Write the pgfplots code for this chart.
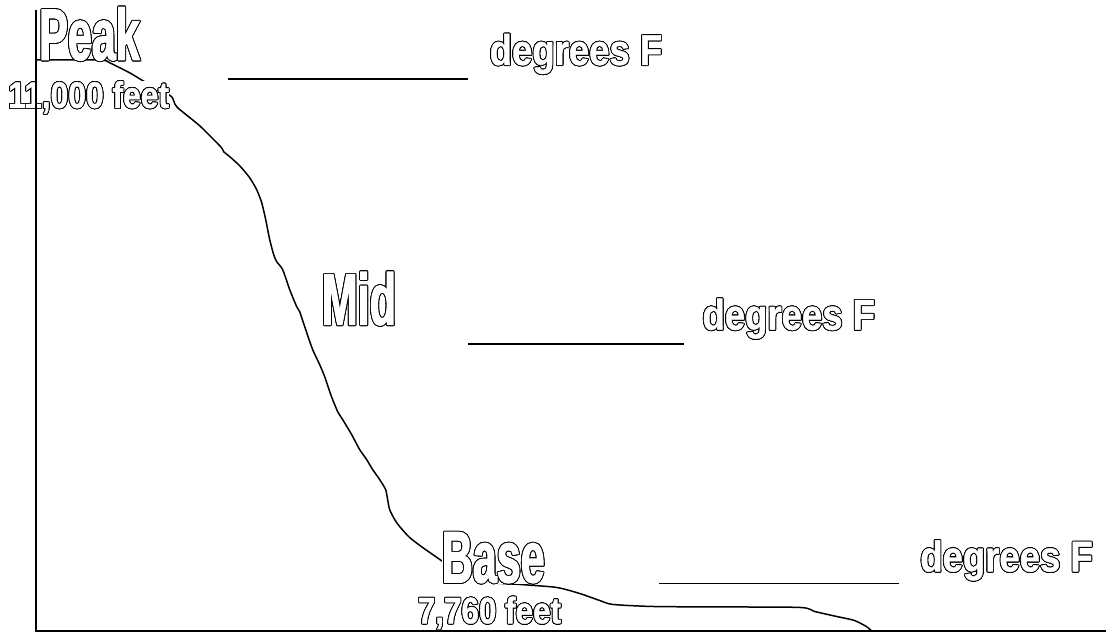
\documentclass[border=0pt]{standalone}
\usepackage{pgfplots}
\pgfplotsset{compat=1.18}
\usepackage{fontspec}
\usepackage{contour}
\setmainfont{Liberation Sans}
\newfontfamily\fA{Liberation Sans Bold}[FakeStretch=0.59, FakeBold=1.5]
\newfontfamily\fB{Liberation Sans Bold}[FakeStretch=0.86, FakeBold=1]
\newfontfamily\fC{Liberation Sans Bold}[FakeStretch=0.85, FakeBold=1]
\newfontfamily\fD{Liberation Sans Bold}[FakeStretch=0.85, FakeBold=1]
\contourlength{0.9pt}
\newcommand{\ol}[1]{\contour{black}{\textcolor{white}{#1}}}
\begin{document}
\begin{tikzpicture}
\begin{axis}[
  width=1107pt, height=633pt, scale only axis,
  hide axis, clip=false,
  xmin=0, xmax=1107, ymin=0, ymax=633, y dir=reverse,
]
\path (axis cs:0,0) rectangle (axis cs:1107,633);
% blanks
\addplot[black, line width=1.8pt] coordinates {(228,79) (468,79)};
\addplot[black, line width=1.8pt] coordinates {(468,344) (685,344)};
\addplot[black, line width=1.8pt] coordinates {(660,584) (900,584)};
% mountain profile
\addplot[black, line width=1.5pt, smooth, tension=0.4] coordinates {
(36,60) (100,60) (110,63) (130,73) (145,82) (160,90) (172,97) (177,107)
(200,126) (221,147) (224,152) (229,156) (240,166) (250,178)
(257,190) (262,203) (266,220) (270,240) (274,255) (277,262) (283,270)
(290,290) (297,307) (300,312) (307,333) (313,350) (320,365) (325,377)
(330,392) (333,400) (338,412) (343,420) (352,435) (360,450) (367,460)
(373,470) (380,480) (386,490) (388,500) (390,510) (395,520) (400,527)
(410,538) (423,548) (443,562) (460,575) (490,583) (520,585) (557,588)
(580,594) (600,601) (613,605) (650,607) (700,607.5) (800,608) (815,612)
(837,617) (855,621) (867,627) (873,632)
};
% labels
\node[anchor=base west, inner sep=0pt, font=\fA\fontsize{73}{73}\selectfont] at (axis cs:39,60) {\ol{Peak}};
\node[anchor=base west, inner sep=0pt, font=\fA\fontsize{73}{73}\selectfont] at (axis cs:322,325) {\ol{Mid}};
\node[anchor=base west, inner sep=0pt, fill=white, font=\fA\fontsize{73}{73}\selectfont] at (axis cs:442,583) {\ol{Base}};
\node[anchor=base west, inner sep=0pt, fill=white, font=\fB\fontsize{37}{37}\selectfont] at (axis cs:8,108) {\ol{11,000 feet}};
\node[anchor=base west, inner sep=0pt, fill=white, font=\fC\fontsize{37}{37}\selectfont] at (axis cs:418,624) {\ol{7,760 feet}};
\node[anchor=base west, inner sep=0pt, font=\fD\fontsize{43}{43}\selectfont] at (axis cs:490,65) {\ol{degrees F}};
\node[anchor=base west, inner sep=0pt, font=\fD\fontsize{43}{43}\selectfont] at (axis cs:703,330) {\ol{degrees F}};
\node[anchor=base west, inner sep=0pt, font=\fD\fontsize{43}{43}\selectfont] at (axis cs:921,572) {\ol{degrees F}};
% axes
\addplot[black, line width=2.4pt] coordinates {(36,10) (36,632)};
\addplot[black, line width=2.2pt] coordinates {(35,631.5) (1107,631.5)};
\end{axis}
\end{tikzpicture}
\end{document}
